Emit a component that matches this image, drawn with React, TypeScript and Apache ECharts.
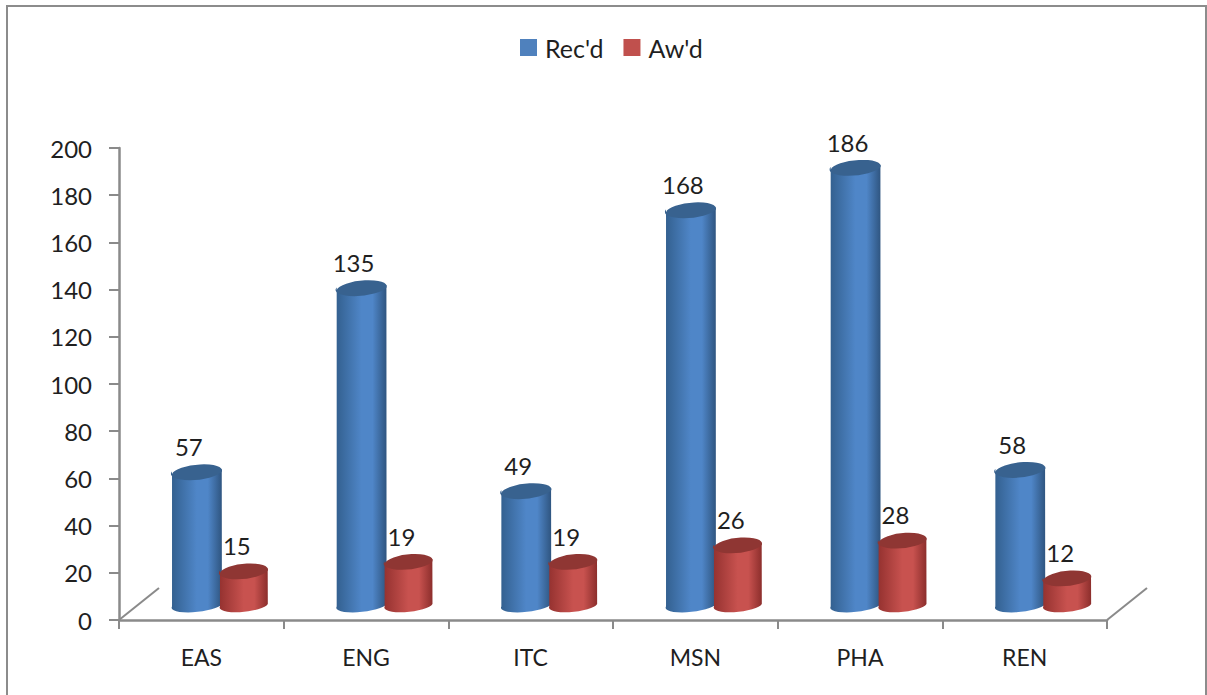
import React, { useEffect, useRef } from "react";
import * as echarts from "echarts";

const categories = ["EAS", "ENG", "ITC", "MSN", "PHA", "REN"];
const recd = [57, 135, 49, 168, 186, 58];
const awd = [15, 19, 19, 26, 28, 12];
const valueTicks = { min: 0, max: 200, interval: 20 };

const FONT = "Lato, 'Open Sans', sans-serif";
const AXIS_COLOR = "#8a8a8a";
const TEXT_COLOR = "#1f1f1f";
const GRID = { left: 119, right: 100, top: 148, bottom: 75 };
const W = 1207;
const H = 695;
const BASE_Y = H - GRID.bottom;
const DEPTH_X = 40;
const DEPTH_Y = 32;

function cylinder(
  xOffsetRatio: number,
  rx: number,
  stops: string[],
  capColor: string,
  labelDx: number
) {
  return (params: any, api: any) => {
    const cat = api.value(0);
    const val = api.value(1);
    const pTop = api.coord([cat, val]);
    const pBase = api.coord([cat, 0]);
    const band = api.size([1, 0])[0];
    const cx = pTop[0] + band * xOffsetRatio;
    const topY = pTop[1] - 14;
    const baseY = pBase[1] - 16;
    const ry = 8;
    const ryBase = 6.5;
    const rotDeg = -6;
    const rad = (rotDeg * Math.PI) / 180;
    const dx = rx * Math.cos(rad);
    const dy = rx * Math.sin(rad);
    const d =
      `M ${cx - dx} ${topY - dy} L ${cx - dx} ${baseY - dy} ` +
      `A ${rx} ${ryBase} ${rotDeg} 0 0 ${cx + dx} ${baseY + dy} ` +
      `L ${cx + dx} ${topY + dy} ` +
      `A ${rx} ${ry} ${rotDeg} 0 1 ${cx - dx} ${topY - dy} Z`;
    const cap =
      `M ${cx - dx} ${topY - dy} ` +
      `A ${rx} ${ry} ${rotDeg} 0 1 ${cx + dx} ${topY + dy} ` +
      `A ${rx} ${ry} ${rotDeg} 0 1 ${cx - dx} ${topY - dy} Z`;
    return {
      type: "group",
      children: [
        {
          type: "path",
          shape: { pathData: d },
          style: {
            fill: new echarts.graphic.LinearGradient(0, 0, 1, 0, [
              { offset: 0, color: stops[0] },
              { offset: 0.5, color: stops[1] },
              { offset: 0.72, color: stops[1] },
              { offset: 1, color: stops[2] },
            ]),
          },
        },
        { type: "path", shape: { pathData: cap }, style: { fill: capColor } },
        {
          type: "text",
          style: {
            text: String(val),
            x: cx + labelDx,
            y: topY - 13,
            textAlign: "center",
            textVerticalAlign: "bottom",
            fill: TEXT_COLOR,
            font: `24px ${FONT}`,
          },
        },
      ],
    };
  };
}

export default function App() {
  const ref = useRef<HTMLDivElement>(null);
  useEffect(() => {
    document.body.style.margin = "0";
    document.body.style.background = "#fff";
    const chart = echarts.init(ref.current!, null, { renderer: "svg" });
    const depthLine = (x: number) => ({
      type: "line",
      silent: true,
      shape: { x1: x, y1: BASE_Y, x2: x + DEPTH_X, y2: BASE_Y - DEPTH_Y },
      style: { stroke: AXIS_COLOR, lineWidth: 2 },
    });
    chart.setOption({
      animation: false,
      backgroundColor: "#ffffff",
      textStyle: { fontFamily: FONT },
      legend: {
        top: 35,
        left: 520,
        padding: 0,
        itemWidth: 17,
        itemHeight: 17,
        itemGap: 20,
        icon: "rect",
        data: ["Rec'd", "Aw'd"],
        textStyle: { fontFamily: FONT, fontSize: 25, color: TEXT_COLOR, padding: [0, 0, 0, 3] },
      },
      grid: { ...GRID },
      xAxis: {
        type: "category",
        data: categories,
        boundaryGap: true,
        axisLine: { show: true, lineStyle: { color: AXIS_COLOR, width: 2.5 } },
        axisTick: { show: true, length: 9, alignWithLabel: false, lineStyle: { color: AXIS_COLOR, width: 2 } },
        axisLabel: { fontFamily: FONT, fontSize: 23, color: TEXT_COLOR, margin: 25 },
      },
      yAxis: {
        type: "value",
        ...valueTicks,
        splitLine: { show: false },
        axisLine: { show: true, lineStyle: { color: AXIS_COLOR, width: 2.5 } },
        axisTick: { show: true, length: 10, lineStyle: { color: AXIS_COLOR, width: 2 } },
        axisLabel: { fontFamily: FONT, fontSize: 24, color: TEXT_COLOR, margin: 27 },
      },
      graphic: [
        depthLine(GRID.left),
        depthLine(W - GRID.right),
        {
          type: "polyline",
          silent: true,
          shape: { points: [[7, H], [7, 6], [1206, 6], [1206, H]] },
          style: { stroke: "#8c8c8c", lineWidth: 2, fill: "none" },
        },
      ],
      series: [
        {
          name: "Rec'd",
          type: "custom",
          clip: false,
          z: 3,
          itemStyle: { color: "#4f81bd" },
          encode: { x: 0, y: 1 },
          data: recd.map((v, i) => [i, v]),
          renderItem: cylinder(-0.027, 25, ["#33608f", "#4f86c8", "#2f5580"], "#38628f", -8),
        },
        {
          name: "Aw'd",
          type: "custom",
          clip: false,
          z: 4,
          itemStyle: { color: "#c0504d" },
          encode: { x: 0, y: 1 },
          data: awd.map((v, i) => [i, v]),
          renderItem: cylinder(0.258, 24, ["#953230", "#c8524f", "#8c2e2c"], "#8f3633", -7),
        },
      ],
    });
    return () => chart.dispose();
  }, []);
  return <div ref={ref} style={{ width: W, height: H }} />;
}
